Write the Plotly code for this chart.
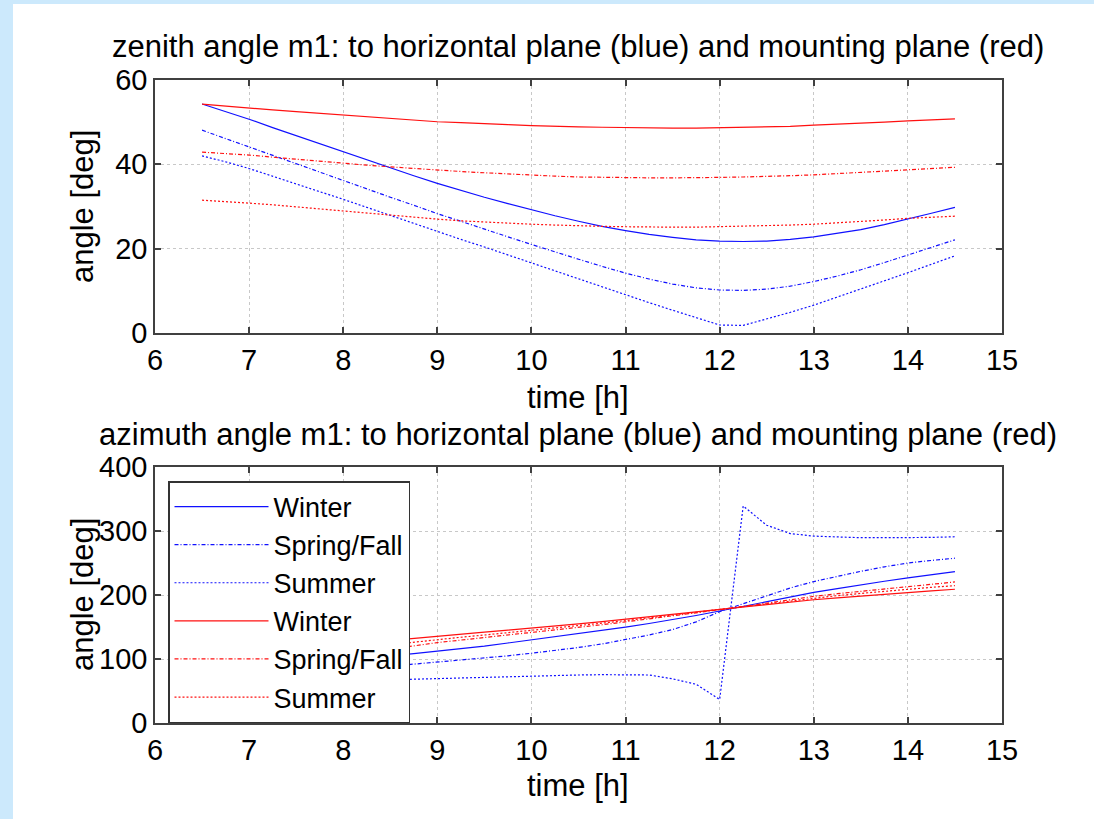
import plotly.graph_objects as go

W, H = 1094, 819

time_h = [6.5, 6.75, 7.0, 7.25, 7.5, 7.75, 8.0, 8.25, 8.5, 8.75, 9.0, 9.25, 9.5, 9.75,
          10.0, 10.25, 10.5, 10.75, 11.0, 11.25, 11.5, 11.75, 12.0, 12.25, 12.5, 12.75,
          13.0, 13.25, 13.5, 13.75, 14.0, 14.25, 14.5]

# zenith angle to horizontal plane (blue)
zen_h_winter = [54.3, 52.5, 50.7, 48.7, 46.8, 44.9, 43.0, 41.0, 39.1, 37.3, 35.5, 33.8, 32.2, 30.7,
                29.2, 27.8, 26.5, 25.3, 24.3, 23.4, 22.7, 22.1, 21.8, 21.7, 21.8, 22.2,
                22.8, 23.6, 24.5, 25.7, 27.0, 28.4, 29.8]
zen_h_spring = [48.1, 46.1, 44.1, 42.1, 40.1, 38.2, 36.2, 34.2, 32.2, 30.3, 28.3, 26.5, 24.6, 22.8,
                21.0, 19.2, 17.5, 15.8, 14.2, 12.8, 11.6, 10.7, 10.2, 10.1, 10.4, 11.1,
                12.2, 13.5, 15.0, 16.7, 18.5, 20.3, 22.1]
zen_h_summer = [42.0, 40.6, 39.0, 37.2, 35.4, 33.6, 31.7, 29.8, 27.9, 25.9, 24.0, 22.2, 20.4, 18.5,
                16.7, 14.8, 12.9, 11.0, 9.0, 7.2, 5.4, 3.6, 1.9, 1.8, 3.3, 4.9,
                6.6, 8.5, 10.4, 12.4, 14.3, 16.3, 18.3]
# zenith angle to mounting plane (red)
zen_m_winter = [54.3, 53.8, 53.3, 52.9, 52.5, 52.1, 51.7, 51.3, 50.9, 50.5, 50.1, 49.9, 49.6, 49.4,
                49.2, 49.0, 48.9, 48.8, 48.7, 48.7, 48.6, 48.6, 48.7, 48.7, 48.8, 49.0,
                49.3, 49.5, 49.8, 50.0, 50.3, 50.6, 50.8]
zen_m_spring = [42.9, 42.6, 42.2, 41.7, 41.2, 40.7, 40.2, 39.8, 39.4, 39.0, 38.7, 38.3, 38.0, 37.7,
                37.4, 37.2, 37.0, 36.9, 36.8, 36.8, 36.8, 36.8, 36.9, 37.0, 37.1, 37.3,
                37.5, 37.8, 38.1, 38.4, 38.7, 39.0, 39.3]
zen_m_summer = [31.5, 31.2, 30.8, 30.4, 29.9, 29.4, 28.9, 28.4, 27.9, 27.4, 27.0, 26.6, 26.3, 26.0,
                25.8, 25.6, 25.4, 25.3, 25.2, 25.1, 25.1, 25.1, 25.2, 25.3, 25.4, 25.6,
                25.8, 26.1, 26.4, 26.8, 27.2, 27.5, 27.7]

# azimuth angle to horizontal plane (blue)
az_h_winter = [80.0, 83.0, 86.0, 89.0, 92.0, 95.0, 98.5, 101.5, 105.0, 108.5, 112.0, 116.0, 120.0, 125.0,
               129.8, 134.5, 139.5, 144.5, 149.8, 155.5, 161.5, 168.0, 175.0, 182.5, 189.5, 197.0,
               204.0, 210.0, 216.0, 221.5, 226.7, 231.5, 236.6]
az_h_spring = [72.0, 74.0, 76.0, 78.0, 80.0, 82.0, 84.0, 86.5, 89.0, 92.0, 95.0, 98.0, 101.5, 105.0,
               109.0, 113.0, 118.0, 123.5, 130.0, 137.5, 146.0, 158.0, 174.0, 186.0, 199.0, 211.0,
               221.0, 229.5, 237.0, 244.0, 250.0, 254.0, 257.5]
az_h_summer = [60.0, 61.0, 62.0, 63.0, 64.0, 65.0, 66.0, 67.0, 68.0, 69.0, 70.0, 71.0, 72.0, 73.0,
               73.8, 74.5, 75.0, 75.5, 75.5, 75.0, 69.0, 60.5, 36.7, 339.0, 309.0, 296.0,
               292.0, 290.5, 289.5, 289.5, 289.5, 290.0, 291.0]
# azimuth angle to mounting plane (red)
az_m_winter = [103.0, 106.0, 109.0, 112.0, 115.5, 119.0, 122.0, 125.5, 129.0, 132.5, 136.0, 139.0, 142.0, 145.0,
               148.0, 151.5, 155.0, 158.5, 162.0, 165.5, 169.5, 173.5, 177.5, 181.5, 185.0, 189.0,
               192.6, 195.5, 198.5, 201.0, 204.0, 206.5, 209.0]
az_m_spring = [84.0, 88.0, 92.0, 96.0, 100.0, 104.0, 108.0, 112.0, 116.0, 120.5, 125.6, 129.5, 133.0, 137.0,
               141.0, 145.0, 149.0, 153.5, 158.0, 162.5, 167.0, 172.0, 177.0, 182.0, 187.5, 192.5,
               197.8, 202.0, 205.5, 209.0, 212.6, 216.5, 220.4]
az_m_summer = [91.0, 95.0, 99.0, 103.0, 107.0, 111.0, 115.0, 119.0, 122.5, 126.5, 130.5, 134.0, 137.5, 141.0,
               144.5, 148.5, 152.0, 156.0, 160.0, 164.0, 168.5, 173.0, 177.5, 182.0, 186.5, 191.0,
               195.3, 199.0, 202.5, 206.0, 209.4, 212.0, 214.6]

season_names = ["Winter", "Spring/Fall", "Summer"]
dashes = ["solid", "4px,2px,1px,2px", "2px,2px"]
BLUE = "#1010ff"
RED = "#ff1010"

xticks = [6, 7, 8, 9, 10, 11, 12, 13, 14, 15]
zen_ticks = [0, 20, 40, 60]
az_ticks = [0, 100, 200, 300, 400]

fig = go.Figure()

zen_blue = [zen_h_winter, zen_h_spring, zen_h_summer]
zen_red = [zen_m_winter, zen_m_spring, zen_m_summer]
az_blue = [az_h_winter, az_h_spring, az_h_summer]
az_red = [az_m_winter, az_m_spring, az_m_summer]

LW = 1.2
for i in range(3):
    fig.add_trace(go.Scatter(x=time_h, y=zen_blue[i], mode="lines", xaxis="x", yaxis="y",
                             line=dict(color=BLUE, width=LW, dash=dashes[i]), showlegend=False))
for i in range(3):
    fig.add_trace(go.Scatter(x=time_h, y=zen_red[i], mode="lines", xaxis="x", yaxis="y",
                             line=dict(color=RED, width=LW, dash=dashes[i]), showlegend=False))
for i in range(3):
    fig.add_trace(go.Scatter(x=time_h, y=az_blue[i], mode="lines", xaxis="x2", yaxis="y2",
                             name=season_names[i],
                             line=dict(color=BLUE, width=LW, dash=dashes[i])))
for i in range(3):
    fig.add_trace(go.Scatter(x=time_h, y=az_red[i], mode="lines", xaxis="x2", yaxis="y2",
                             name=season_names[i],
                             line=dict(color=RED, width=LW, dash=dashes[i])))

FONT = "Liberation Sans, Arial, sans-serif"

def px_x(p):
    return p / W

def px_y(p):
    return 1 - p / H

axis_common = dict(
    showline=True, linecolor="#404040", linewidth=1.5, mirror="allticks",
    ticks="inside", ticklen=6, tickwidth=1.5, tickcolor="#404040",
    showgrid=True, gridcolor="#c8c8c8", griddash="dot", gridwidth=1,
    zeroline=False, automargin=False,
    tickfont=dict(family=FONT, size=29, color="black"),
)

fig.update_layout(
    width=W, height=H,
    margin=dict(l=0, r=0, t=0, b=0, autoexpand=False),
    paper_bgcolor="#cce9fc",
    plot_bgcolor="white",
    font=dict(family=FONT, color="black"),
    xaxis=dict(domain=[px_x(155), px_x(1002)], range=[6, 15], tickvals=xticks,
               anchor="y", **axis_common),
    yaxis=dict(domain=[px_y(333), px_y(80)], range=[0, 60], tickvals=zen_ticks,
               anchor="x", **axis_common),
    xaxis2=dict(domain=[px_x(155), px_x(1002)], range=[6, 15], tickvals=xticks,
                anchor="y2", **axis_common),
    yaxis2=dict(domain=[px_y(723), px_y(467)], range=[0, 400], tickvals=az_ticks,
                anchor="x2", **axis_common),
    legend=dict(x=px_x(168), y=px_y(481), xanchor="left", yanchor="top",
                bgcolor="white", bordercolor="#333333", borderwidth=1.5,
                font=dict(family=FONT, size=27, color="black"),
                tracegroupgap=0, itemwidth=94),
    shapes=[dict(type="rect", xref="paper", yref="paper", x0=px_x(13), x1=1.0,
                 y0=0.0, y1=px_y(4), fillcolor="white", line=dict(width=0), layer="below")],
    annotations=[
        dict(text="zenith angle m1: to horizontal plane (blue) and mounting plane (red)",
             x=px_x(578), y=px_y(46), xref="paper", yref="paper", showarrow=False,
             font=dict(family=FONT, size=31), xanchor="center", yanchor="middle"),
        dict(text="azimuth angle m1: to horizontal plane (blue) and mounting plane (red)",
             x=px_x(578), y=px_y(434), xref="paper", yref="paper", showarrow=False,
             font=dict(family=FONT, size=31), xanchor="center", yanchor="middle"),
        dict(text="time [h]", x=px_x(578), y=px_y(397), xref="paper", yref="paper",
             showarrow=False, font=dict(family=FONT, size=31), xanchor="center", yanchor="middle"),
        dict(text="time [h]", x=px_x(578), y=px_y(785), xref="paper", yref="paper",
             showarrow=False, font=dict(family=FONT, size=31), xanchor="center", yanchor="middle"),
        dict(text="angle [deg]", x=px_x(82), y=px_y(207), xref="paper", yref="paper",
             showarrow=False, textangle=-90, font=dict(family=FONT, size=31),
             xanchor="center", yanchor="middle"),
        dict(text="angle [deg]", x=px_x(82), y=px_y(595), xref="paper", yref="paper",
             showarrow=False, textangle=-90, font=dict(family=FONT, size=31),
             xanchor="center", yanchor="middle"),
    ],
)

fig.write_html("out.html")
